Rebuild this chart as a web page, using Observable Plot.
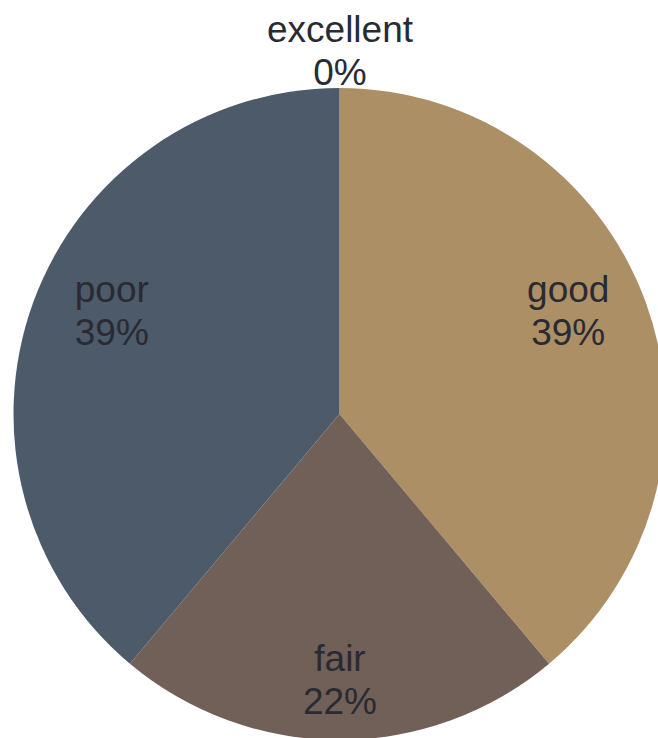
<!DOCTYPE html>
<html>
<head>
<meta charset="utf-8">
<script src="https://cdn.jsdelivr.net/npm/d3@7"></script>
<script src="https://cdn.jsdelivr.net/npm/@observablehq/plot@0.6"></script>
<style>
  html, body { margin: 0; padding: 0; background: #fff; overflow: hidden; }
</style>
</head>
<body>
<div id="chart"></div>
<script>
// ---- data ----
const categories = ["excellent", "good", "fair", "poor"];
const counts = [0, 7, 4, 7];
const colors = ["#8a97a3", "#ad8f66", "#706057", "#4c5a6a"];

// ---- layout (pixels) ----
const W = 658, H = 738;
const CX = 339.5, CY = 414, R = 326;   // pie centre and radius in pixels
const insideLabel = 0.745;             // label radius (fraction of R) for non-empty slices
const outsideLabel = 1.052;            // label radius for empty slices
const fontSize = 37, lineHeight = 1.17;
const halfLine = fontSize * lineHeight / 2;

const total = d3.sum(counts);
const fmt = d3.format(".0%");
const arcs = d3.pie().sort(null).value(d => d.value)(
  categories.map((key, i) => ({key, value: counts[i]}))
);
const slices = arcs.map(a => {
  const mid = (a.startAngle + a.endAngle) / 2;
  const rho = a.data.value > 0 ? insideLabel : outsideLabel;
  return {
    key: a.data.key,
    value: a.data.value,
    text: `${a.data.key}\n${fmt(a.data.value / total)}`,
    lx: rho * Math.sin(mid),
    ly: rho * Math.cos(mid),
    upper: Math.cos(mid) > 0,
    arc: a
  };
});

function pieSlices(index, scales) {
  const cx = scales.x(0), cy = scales.y(0), r = scales.x(1) - cx;
  const fill = scales.color ?? d3.scaleOrdinal(categories, colors);
  const arc = d3.arc().innerRadius(0).outerRadius(r);
  const g = d3.create("svg:g").attr("transform", `translate(${cx},${cy})`);
  g.selectAll("path")
    .data(slices.filter(d => d.value > 0))
    .join("path")
    .attr("d", d => arc(d.arc))
    .attr("fill", d => fill(d.key));
  return g.node();
}

const font = "'Liberation Sans', Arial, Helvetica, sans-serif";
const textOpts = {
  x: "lx", y: "ly", text: "text",
  fontSize, lineHeight, lineAnchor: "middle", textAnchor: "middle",
  fill: "#2a2a33", fontFamily: font
};

const chart = Plot.plot({
  width: W,
  height: H,
  margin: 0,
  style: {fontFamily: font, background: "#fff"},
  x: {domain: [-CX / R, (W - CX) / R], axis: null},
  y: {domain: [-(H - CY) / R, CY / R], axis: null},
  color: {domain: categories, range: colors},
  marks: [
    Plot.dot(slices, {x: "lx", y: "ly", fill: "key", r: 0}),
    pieSlices,
    Plot.text(slices.filter(d => d.upper), {...textOpts, dy: -halfLine}),
    Plot.text(slices.filter(d => !d.upper), {...textOpts, dy: halfLine})
  ]
});
document.getElementById("chart").appendChild(chart);
</script>
</body>
</html>
